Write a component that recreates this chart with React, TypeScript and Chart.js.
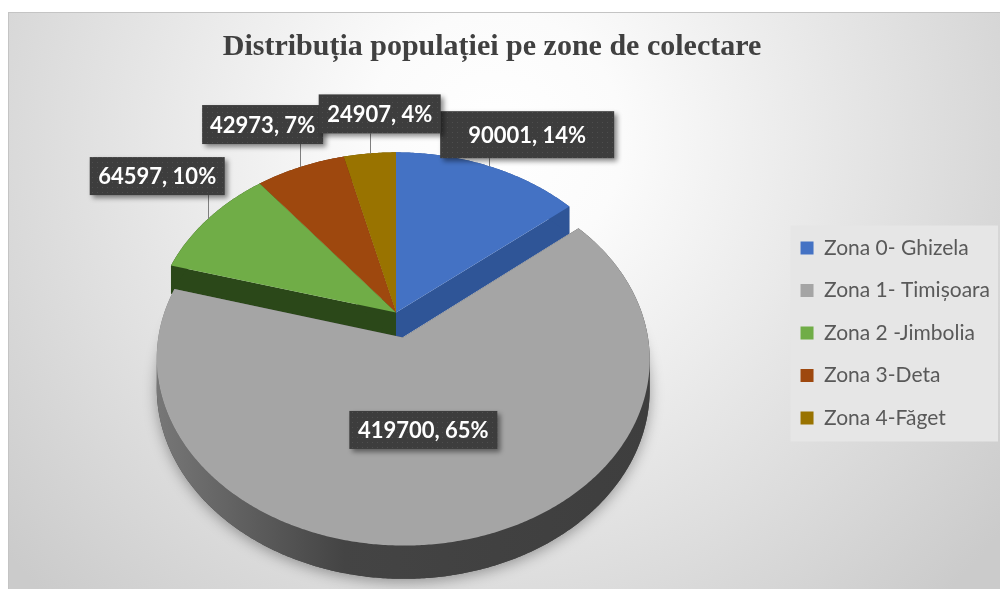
import React, { useEffect, useRef } from 'react';
import { Chart, registerables } from 'chart.js';

Chart.register(...registerables);

// ---------------- data ----------------
const CATEGORIES = ['Zona 0- Ghizela', 'Zona 1- Timișoara', 'Zona 2 -Jimbolia', 'Zona 3-Deta', 'Zona 4-Făget'];
const POPULATION = [90001, 419700, 64597, 42973, 24907];
const TITLE = 'Distribuția populației pe zone de colectare';

// ---------------- style ----------------
const TOP_COLORS = ['#4472C4', '#A5A5A5', '#70AD47', '#9E480E', '#997300'];
const SIDE_COLORS = ['#2F5597', '#444444', '#2B4819', '#6A300A', '#665000'];
const EXPLODE = [0, 34, 0, 0, 0];
const PERSP = 0.1135; // perspective strength
const TILT = 0.74; // vertical squash of the disc
const DEPTH = 29; // thickness of the disc in px
const LABEL_RADIUS = [1, 0.5, 1, 1, 1];
const LABEL_BOX = [
  { dx: -49, dy: -55, w: 174, h: 47 },
  { dx: -81, dy: -22, w: 148, h: 38 },
  { dx: -118, dy: -62, w: 135, h: 38 },
  { dx: -98, dy: -62, w: 121, h: 39 },
  { dx: -51, dy: -59, w: 122, h: 39 },
];

type P = [number, number, number];

function geometry(chart: any) {
  const meta = chart.getDatasetMeta(0);
  const arcs = meta.data as any[];
  const R = arcs[0].outerRadius;
  const a = R * TILT;
  const shift = (a / (1 - PERSP) - a / (1 + PERSP)) / 2;
  return { arcs, R, cx: arcs[0].x, cy: arcs[0].y - shift };
}

function project(g: any, u: number, v: number): P {
  const s = 1 / (1 - (PERSP * v) / g.R);
  return [g.cx + u * s, g.cy + v * TILT * s, s];
}

function slicePts(g: any, arc: any, explode: number) {
  const mid = (arc.startAngle + arc.endAngle) / 2;
  const ox = Math.cos(mid) * explode;
  const oy = Math.sin(mid) * explode;
  const span = arc.endAngle - arc.startAngle;
  const n = Math.max(2, Math.ceil(span / (Math.PI / 360)));
  const rim: P[] = [];
  for (let i = 0; i <= n; i++) {
    const ang = arc.startAngle + (span * i) / n;
    rim.push(project(g, ox + g.R * Math.cos(ang), oy + g.R * Math.sin(ang)));
  }
  return { apex: project(g, ox, oy), rim, ox, oy, mid };
}

const down = (p: P): [number, number] => [p[0], p[1] + DEPTH * p[2]];

function monotonicRuns(rim: P[]) {
  const out: P[][] = [];
  let cur: P[] = [rim[0]];
  let dir = 0;
  for (let i = 1; i < rim.length; i++) {
    const dx = rim[i][0] - rim[i - 1][0];
    const d = dx > 0 ? 1 : dx < 0 ? -1 : 0;
    if (dir !== 0 && d !== 0 && d !== dir) {
      out.push(cur);
      cur = [rim[i - 1]];
    }
    if (d !== 0) dir = d;
    cur.push(rim[i]);
  }
  out.push(cur);
  return out;
}

function drawWalls(ctx: CanvasRenderingContext2D, pts: any, fill: any) {
  const { apex, rim } = pts;
  ctx.fillStyle = fill;
  for (const c of [rim[0], rim[rim.length - 1]]) {
    const a2 = down(apex);
    const c2 = down(c);
    ctx.beginPath();
    ctx.moveTo(apex[0], apex[1]);
    ctx.lineTo(c[0], c[1]);
    ctx.lineTo(c2[0], c2[1]);
    ctx.lineTo(a2[0], a2[1]);
    ctx.closePath();
    ctx.fill();
  }
  for (const run of monotonicRuns(rim)) {
    ctx.beginPath();
    run.forEach((p, i) => (i ? ctx.lineTo(p[0], p[1]) : ctx.moveTo(p[0], p[1])));
    for (let i = run.length - 1; i >= 0; i--) {
      const d = down(run[i]);
      ctx.lineTo(d[0], d[1]);
    }
    ctx.closePath();
    ctx.fill();
  }
}

function drawTop(ctx: CanvasRenderingContext2D, pts: any, fill: string) {
  const { apex, rim } = pts;
  ctx.fillStyle = fill;
  ctx.beginPath();
  ctx.moveTo(apex[0], apex[1]);
  rim.forEach((p: P) => ctx.lineTo(p[0], p[1]));
  ctx.closePath();
  ctx.fill();
}

let dotPattern: CanvasPattern | null = null;
function getPattern(ctx: CanvasRenderingContext2D) {
  if (dotPattern) return dotPattern;
  const c = document.createElement('canvas');
  c.width = 5;
  c.height = 5;
  const x = c.getContext('2d')!;
  x.fillStyle = '#3d3d3d';
  x.fillRect(0, 0, 5, 5);
  x.fillStyle = '#4e4e4e';
  x.fillRect(2, 2, 1, 1);
  dotPattern = ctx.createPattern(c, 'repeat');
  return dotPattern;
}

const pie3dPlugin = {
  id: 'pie3d',
  beforeDraw(chart: any) {
    const ctx: CanvasRenderingContext2D = chart.ctx;
    ctx.save();
    ctx.fillStyle = '#ffffff';
    ctx.fillRect(0, 0, chart.width, chart.height);
    const grad = ctx.createRadialGradient(495, 140, 0, 495, 140, 640);
    grad.addColorStop(0, '#ffffff');
    grad.addColorStop(0.2, '#fbfbfb');
    grad.addColorStop(1, '#cbcbcb');
    ctx.fillStyle = grad;
    ctx.fillRect(8, 12, chart.width - 8, chart.height - 12);
    ctx.strokeStyle = '#c4c4c4';
    ctx.lineWidth = 1;
    ctx.beginPath();
    ctx.moveTo(8, 12.5);
    ctx.lineTo(chart.width, 12.5);
    ctx.moveTo(8.5, 12);
    ctx.lineTo(8.5, chart.height);
    ctx.stroke();

    // legend background
    const lg = chart.legend;
    const hb = lg && lg.legendHitBoxes;
    if (hb && hb.length) {
      const last = hb[hb.length - 1];
      const l = hb[0].left - 10;
      const t = hb[0].top - 12;
      const b = last.top + last.height + 13;
      ctx.fillStyle = '#e6e6e6';
      ctx.fillRect(l, t, lg.right - 2 - l, b - t);
    }

    // title
    ctx.fillStyle = '#404040';
    ctx.font = 'bold 30px "Liberation Serif"';
    ctx.textAlign = 'center';
    ctx.textBaseline = 'alphabetic';
    ctx.fillText(TITLE, 492, 55);
    ctx.restore();
  },
  beforeDatasetsDraw(chart: any) {
    const ctx: CanvasRenderingContext2D = chart.ctx;
    const g = geometry(chart);
    const slices = g.arcs.map((arc: any, i: number) => slicePts(g, arc, EXPLODE[i]));
    const idx = slices.map((_: any, i: number) => i);
    const back = idx
      .filter((i: number) => EXPLODE[i] === 0)
      .sort((a: number, b: number) => Math.sin(slices[a].mid) - Math.sin(slices[b].mid));
    const front = idx.filter((i: number) => EXPLODE[i] !== 0);

    ctx.save();
    for (const i of back) drawWalls(ctx, slices[i], SIDE_COLORS[i]);
    for (const i of back) drawTop(ctx, slices[i], TOP_COLORS[i]);
    for (const i of front) {
      const s = slices[i];
      ctx.save();
      ctx.shadowColor = 'rgba(0,0,0,0.35)';
      ctx.shadowBlur = 14;
      ctx.shadowOffsetY = 3;
      ctx.fillStyle = SIDE_COLORS[i];
      ctx.beginPath();
      const a2 = down(s.apex);
      ctx.moveTo(a2[0], a2[1]);
      s.rim.forEach((p: P) => {
        const d = down(p);
        ctx.lineTo(d[0], d[1]);
      });
      ctx.closePath();
      ctx.fill();
      ctx.restore();
      const xs = s.rim.map((p: P) => p[0]);
      const minX = Math.min(...xs);
      const maxX = Math.max(...xs);
      const lin = ctx.createLinearGradient(minX, 0, maxX, 0);
      lin.addColorStop(0, '#777777');
      lin.addColorStop(0.38, '#444444');
      lin.addColorStop(1, '#3e3e3e');
      drawWalls(ctx, s, lin);
      drawTop(ctx, s, TOP_COLORS[i]);
    }

    // data labels
    const total = POPULATION.reduce((a, b) => a + b, 0);
    slices.forEach((s: any, i: number) => {
      const r = g.R * LABEL_RADIUS[i];
      const anchor = project(g, s.ox + r * Math.cos(s.mid), s.oy + r * Math.sin(s.mid));
      const ax = Math.round(anchor[0]) + 0.5;
      const ay = anchor[1];
      const box = LABEL_BOX[i];
      const bx = anchor[0] + box.dx;
      const by = anchor[1] + box.dy;
      if (by + box.h < ay) {
        ctx.strokeStyle = '#7f7f7f';
        ctx.lineWidth = 1;
        ctx.beginPath();
        ctx.moveTo(ax, by + box.h);
        ctx.lineTo(ax, ay);
        ctx.stroke();
      }
      ctx.save();
      ctx.shadowColor = 'rgba(0,0,0,0.45)';
      ctx.shadowBlur = 5;
      ctx.shadowOffsetX = 3;
      ctx.shadowOffsetY = 3;
      ctx.fillStyle = getPattern(ctx) || '#404040';
      ctx.fillRect(bx, by, box.w, box.h);
      ctx.restore();
      const pct = Math.round((POPULATION[i] / total) * 100);
      ctx.fillStyle = '#ffffff';
      ctx.font = 'bold 22px Lato';
      ctx.textAlign = 'center';
      ctx.textBaseline = 'middle';
      ctx.fillText(`${POPULATION[i]}, ${pct}%`, bx + box.w / 2, by + box.h / 2 + 1);
    });
    ctx.restore();
    return false;
  },
};

export default function App() {
  const ref = useRef<HTMLCanvasElement>(null);
  useEffect(() => {
    const chart = new Chart(ref.current!, {
      type: 'pie',
      data: {
        labels: CATEGORIES,
        datasets: [
          {
            data: POPULATION,
            backgroundColor: TOP_COLORS,
            borderWidth: 0,
            radius: 241,
          } as any,
        ],
      },
      options: {
        responsive: false,
        animation: false,
        events: [],
        radius: 241,
        layout: { padding: { left: 13, right: 0, top: 77, bottom: 0 } },
        plugins: {
          title: { display: false },
          tooltip: { enabled: false },
          legend: {
            position: 'right',
            align: 'center',
            labels: {
              boxWidth: 13,
              boxHeight: 13,
              padding: 21.5,
              color: '#595959',
              font: { family: 'Lato', size: 21 },
            },
          },
        },
      } as any,
      plugins: [pie3dPlugin as any],
    });
    return () => chart.destroy();
  }, []);
  return (
    <div style={{ position: 'absolute', left: 0, top: 0, width: 1000, height: 589 }}>
      <canvas ref={ref} width={1000} height={589} style={{ display: 'block', width: 1000, height: 589 }} />
    </div>
  );
}
